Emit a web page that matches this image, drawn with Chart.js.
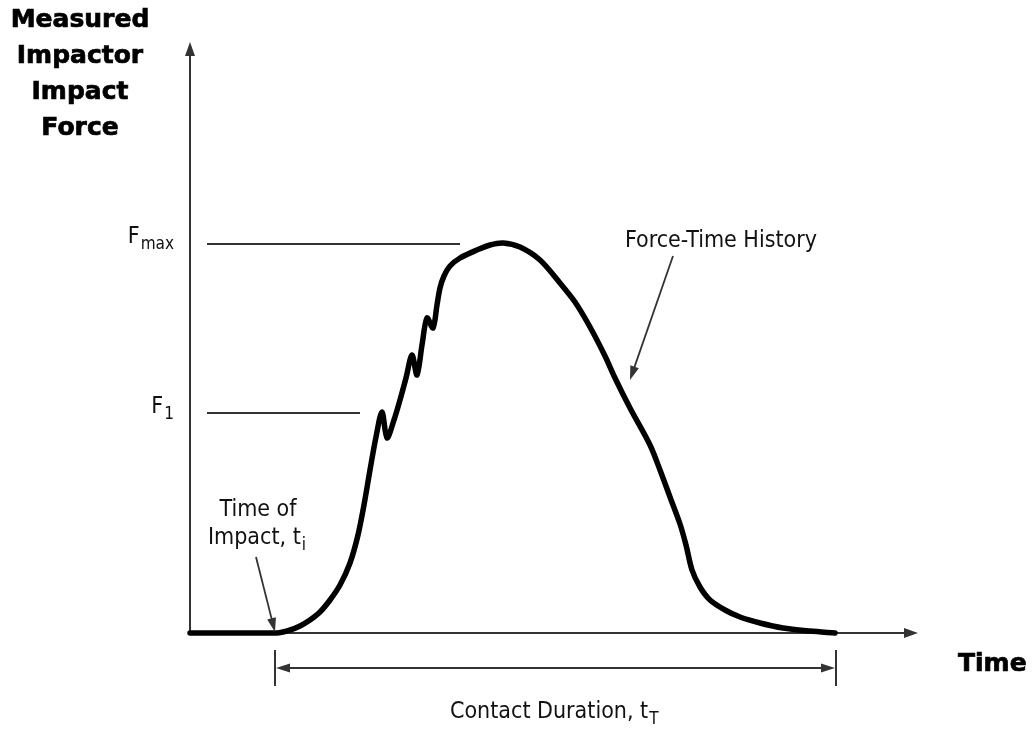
<!DOCTYPE html>
<html>
<head>
<meta charset="utf-8">
<script src="https://cdn.jsdelivr.net/npm/chart.js@4.4.1/dist/chart.umd.min.js"></script>
<style>
  html, body { margin: 0; padding: 0; background: #fff; }
  #wrap { width: 1036px; height: 729px; position: relative; }
</style>
</head>
<body>
<div id="wrap"><canvas id="forceChart"></canvas></div>
<script>
// force-time history (arbitrary time / force units)
const timeValues = [0, 8.7, 10.0, 11.0, 12.0, 13.0, 14.0, 15.0, 16.0, 16.8, 17.4, 18.0, 18.6, 19.2,
  19.7, 20.4, 21.0, 21.6, 22.2, 22.7, 23.2, 23.7, 24.3, 24.7, 25.0, 25.4, 26.0, 27.0, 28.7, 30.0, 31.3,
  33.0, 35.0, 37.0, 38.5, 40.0, 41.5, 42.5, 44.0, 46.0, 47.0, 48.0, 49.0, 49.6, 50.2, 51.0, 52.0,
  53.5, 55.0, 57.0, 59.3, 62.0, 64.5];
const forceValues = [0, 0, 0.3, 0.7, 1.3, 2.1, 3.3, 4.8, 7.0, 9.8, 12.8, 16.3, 19.6, 22.1,
  19.5, 21.3, 23.3, 25.5, 27.8, 25.8, 28.8, 31.5, 30.5, 32.8, 34.5, 35.7, 36.7, 37.5, 38.3, 38.8, 39.0,
  38.6, 37.3, 35.0, 33.1, 30.6, 27.7, 25.5, 22.5, 18.8, 16.3, 13.6, 10.9, 8.8, 6.3, 4.6, 3.3,
  2.3, 1.6, 1.0, 0.5, 0.2, 0];

const fmaxLevel = 38.9;
const fmaxLineTimes = [1.7, 27.0];
const f1Level = 22.0;
const f1LineTimes = [1.7, 17.0];
const impactTime = 8.5;
const endTime = 64.6;
const xMax = 72.8;
const yMax = 59.1;

const ink = '#333333';
const textInk = '#111111';
const normalFont = '"DejaVu Sans Condensed", "DejaVu Sans", sans-serif';
const boldFont = '"DejaVu Sans", sans-serif';

function arrowHead(ctx, x0, y0, x1, y1, len, half) {
  const a = Math.atan2(y1 - y0, x1 - x0);
  ctx.beginPath();
  ctx.moveTo(x1, y1);
  ctx.lineTo(x1 - len * Math.cos(a) + half * Math.sin(a), y1 - len * Math.sin(a) - half * Math.cos(a));
  ctx.lineTo(x1 - len * Math.cos(a) - half * Math.sin(a), y1 - len * Math.sin(a) + half * Math.cos(a));
  ctx.closePath();
  ctx.fill();
}

function arrow(ctx, x0, y0, x1, y1, len, half) {
  const a = Math.atan2(y1 - y0, x1 - x0);
  ctx.beginPath();
  ctx.moveTo(x0, y0);
  ctx.lineTo(x1 - (len - 2) * Math.cos(a), y1 - (len - 2) * Math.sin(a));
  ctx.stroke();
  arrowHead(ctx, x0, y0, x1, y1, len, half);
}

// text with a subscript; align 'left' | 'center' | 'right'
function subText(ctx, main, sub, x, y, size, align) {
  ctx.font = size + 'px ' + normalFont;
  const w1 = ctx.measureText(main).width;
  const subSize = Math.round(size * 0.75);
  ctx.font = subSize + 'px ' + normalFont;
  const w2 = ctx.measureText(sub).width;
  const total = w1 + w2 + 1;
  let left = x;
  if (align === 'center') left = x - total / 2;
  if (align === 'right') left = x - total;
  ctx.textAlign = 'left';
  ctx.textBaseline = 'middle';
  ctx.font = size + 'px ' + normalFont;
  ctx.fillText(main, left, y);
  ctx.font = subSize + 'px ' + normalFont;
  ctx.fillText(sub, left + w1 + 1, y + size * 0.32);
}

function boldText(ctx, t, x, y) {
  ctx.fillText(t, x, y);
  ctx.strokeText(t, x, y);
}

const sketchPlugin = {
  id: 'sketch',
  beforeDatasetsDraw(chart) {
    const ctx = chart.ctx;
    const xs = chart.scales.x, ys = chart.scales.y;
    const x0 = xs.getPixelForValue(0), y0 = ys.getPixelForValue(0);
    ctx.save();
    ctx.strokeStyle = ink;
    ctx.fillStyle = ink;
    ctx.lineWidth = 2;
    // axes with arrows
    arrow(ctx, x0, y0, x0, ys.getPixelForValue(yMax), 14, 5);
    arrow(ctx, x0, y0, xs.getPixelForValue(xMax), y0, 14, 5);
    ctx.restore();
  },
  afterDraw(chart) {
    const ctx = chart.ctx;
    const xs = chart.scales.x, ys = chart.scales.y;
    const y0 = ys.getPixelForValue(0);
    const xa = xs.getPixelForValue(impactTime), xb = xs.getPixelForValue(endTime);
    ctx.save();
    ctx.strokeStyle = ink;
    ctx.fillStyle = ink;
    ctx.lineWidth = 2;

    // contact duration dimension line
    const dimY = y0 + 35;
    ctx.beginPath();
    ctx.moveTo(xa, y0 + 17); ctx.lineTo(xa, y0 + 53);
    ctx.moveTo(xb, y0 + 17); ctx.lineTo(xb, y0 + 53);
    ctx.stroke();
    ctx.beginPath();
    ctx.moveTo(xa + 10, dimY); ctx.lineTo(xb - 10, dimY);
    ctx.stroke();
    arrowHead(ctx, xb, dimY, xa + 1, dimY, 14, 4.5);
    arrowHead(ctx, xa, dimY, xb - 1, dimY, 14, 4.5);

    // time of impact pointer
    ctx.lineWidth = 1.8;
    arrow(ctx, 256, 557, xa, y0 - 1, 14, 4.5);
    // force-time history pointer
    arrow(ctx, 673, 256, 630, 380, 14, 4.5);

    // texts
    ctx.fillStyle = '#000';
    ctx.strokeStyle = '#000';
    ctx.lineWidth = 0.7;
    ctx.textBaseline = 'middle';
    ctx.textAlign = 'center';
    ctx.font = 'bold 25px ' + boldFont;
    ['Measured', 'Impactor', 'Impact', 'Force'].forEach((t, i) => boldText(ctx, t, 80, 20 + i * 36));
    ctx.textAlign = 'left';
    boldText(ctx, 'Time', 958, 664);

    ctx.fillStyle = textInk;
    ctx.font = '23px ' + normalFont;
    ctx.fillText('Force-Time History', 625, 241);
    ctx.textAlign = 'center';
    ctx.fillText('Time of', 258, 510);
    subText(ctx, 'Impact, t', 'i', 257, 538, 23, 'center');
    subText(ctx, 'Contact Duration, t', 'T', 450, 712, 23, 'left');
    subText(ctx, 'F', 'max', 174, ys.getPixelForValue(fmaxLevel) - 7, 23, 'right');
    subText(ctx, 'F', '1', 174, ys.getPixelForValue(f1Level) - 6, 23, 'right');
    ctx.restore();
  }
};

const ctx = document.getElementById('forceChart').getContext('2d');
new Chart(ctx, {
  type: 'line',
  data: {
    datasets: [
      {
        data: timeValues.map((t, i) => ({ x: t, y: forceValues[i] })),
        borderColor: '#000',
        borderWidth: 5.5,
        pointRadius: 0,
        tension: 0.3,
        borderJoinStyle: 'round',
        borderCapStyle: 'round',
        clip: false,
      },
      {
        data: fmaxLineTimes.map((t) => ({ x: t, y: fmaxLevel })),
        borderColor: ink,
        borderWidth: 2,
        pointRadius: 0,
        clip: false,
      },
      {
        data: f1LineTimes.map((t) => ({ x: t, y: f1Level })),
        borderColor: ink,
        borderWidth: 2,
        pointRadius: 0,
        clip: false,
      },
    ],
  },
  options: {
    responsive: true,
    maintainAspectRatio: false,
    animation: false,
    layout: { padding: { left: 190, right: 118, top: 42, bottom: 96 } },
    plugins: {
      legend: { display: false }, // Hide legend
      tooltip: { enabled: false },
    },
    scales: {
      x: { type: 'linear', min: 0, max: xMax, display: false },
      y: { type: 'linear', min: 0, max: yMax, display: false },
    },
  },
  plugins: [sketchPlugin],
});
</script>
</body>
</html>
